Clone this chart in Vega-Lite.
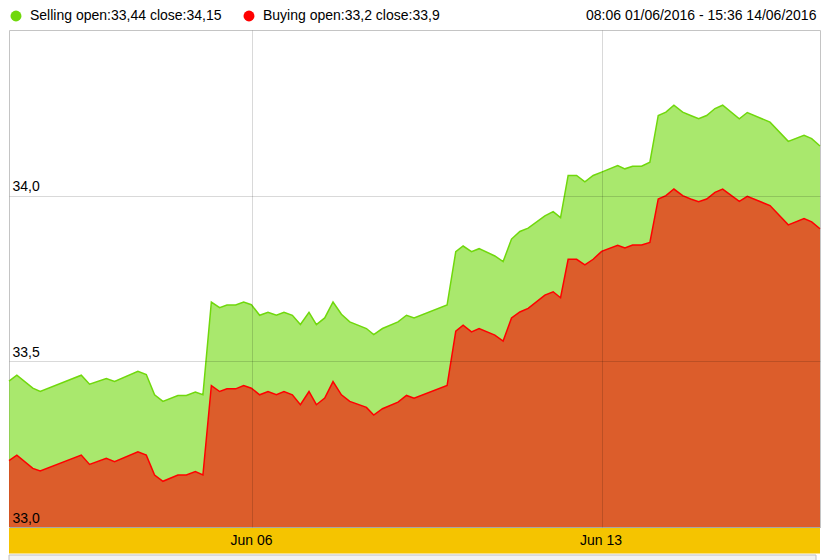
{
  "$schema": "https://vega.github.io/schema/vega-lite/v6.json",
  "width": 811,
  "height": 497,
  "autosize": {"type": "none"},
  "padding": {"left": 9, "top": 30, "right": 6, "bottom": 33},
  "background": "white",
  "config": {
    "font": "Liberation Sans",
    "view": {"stroke": "#c4c4c4", "strokeWidth": 1}
  },
  "datasets": {
    "quotes": [
    {"pos":1.135,"sell":33.44,"buy":33.2},
    {"pos":1.292,"sell":33.458,"buy":33.217},
    {"pos":1.612,"sell":33.419,"buy":33.177},
    {"pos":1.76,"sell":33.409,"buy":33.169},
    {"pos":2.582,"sell":33.458,"buy":33.217},
    {"pos":2.748,"sell":33.431,"buy":33.189},
    {"pos":3.083,"sell":33.448,"buy":33.207},
    {"pos":3.249,"sell":33.439,"buy":33.197},
    {"pos":3.716,"sell":33.47,"buy":33.227},
    {"pos":3.884,"sell":33.46,"buy":33.217},
    {"pos":4.05,"sell":33.399,"buy":33.157},
    {"pos":4.217,"sell":33.379,"buy":33.138},
    {"pos":4.517,"sell":33.397,"buy":33.157},
    {"pos":4.686,"sell":33.397,"buy":33.157},
    {"pos":4.866,"sell":33.407,"buy":33.167},
    {"pos":5.018,"sell":33.399,"buy":33.157},
    {"pos":5.187,"sell":33.679,"buy":33.427},
    {"pos":5.353,"sell":33.662,"buy":33.409},
    {"pos":5.499,"sell":33.67,"buy":33.417},
    {"pos":5.673,"sell":33.67,"buy":33.417},
    {"pos":5.834,"sell":33.679,"buy":33.427},
    {"pos":5.988,"sell":33.671,"buy":33.419},
    {"pos":6.154,"sell":33.639,"buy":33.399},
    {"pos":6.321,"sell":33.648,"buy":33.409},
    {"pos":6.489,"sell":33.639,"buy":33.399},
    {"pos":6.641,"sell":33.648,"buy":33.409},
    {"pos":6.809,"sell":33.639,"buy":33.399},
    {"pos":6.97,"sell":33.611,"buy":33.369},
    {"pos":7.142,"sell":33.648,"buy":33.409},
    {"pos":7.29,"sell":33.611,"buy":33.369},
    {"pos":7.457,"sell":33.631,"buy":33.389},
    {"pos":7.623,"sell":33.679,"buy":33.439},
    {"pos":7.791,"sell":33.642,"buy":33.399},
    {"pos":7.958,"sell":33.619,"buy":33.379},
    {"pos":8.292,"sell":33.599,"buy":33.361},
    {"pos":8.438,"sell":33.581,"buy":33.338},
    {"pos":8.613,"sell":33.599,"buy":33.357},
    {"pos":8.925,"sell":33.619,"buy":33.377},
    {"pos":9.094,"sell":33.639,"buy":33.397},
    {"pos":9.246,"sell":33.631,"buy":33.389},
    {"pos":9.907,"sell":33.67,"buy":33.427},
    {"pos":10.081,"sell":33.831,"buy":33.591},
    {"pos":10.228,"sell":33.848,"buy":33.609},
    {"pos":10.396,"sell":33.831,"buy":33.589},
    {"pos":10.548,"sell":33.84,"buy":33.599},
    {"pos":10.863,"sell":33.818,"buy":33.579},
    {"pos":11.029,"sell":33.801,"buy":33.561},
    {"pos":11.197,"sell":33.869,"buy":33.631},
    {"pos":11.364,"sell":33.892,"buy":33.649},
    {"pos":11.53,"sell":33.902,"buy":33.66},
    {"pos":11.865,"sell":33.939,"buy":33.7},
    {"pos":12.031,"sell":33.952,"buy":33.71},
    {"pos":12.179,"sell":33.934,"buy":33.692},
    {"pos":12.331,"sell":34.061,"buy":33.808},
    {"pos":12.5,"sell":34.061,"buy":33.808},
    {"pos":12.666,"sell":34.042,"buy":33.791},
    {"pos":12.832,"sell":34.061,"buy":33.808},
    {"pos":13.001,"sell":34.071,"buy":33.832},
    {"pos":13.323,"sell":34.091,"buy":33.85},
    {"pos":13.467,"sell":34.081,"buy":33.842},
    {"pos":13.622,"sell":34.089,"buy":33.851},
    {"pos":13.802,"sell":34.089,"buy":33.851},
    {"pos":13.968,"sell":34.101,"buy":33.859},
    {"pos":14.135,"sell":34.242,"buy":33.99},
    {"pos":14.289,"sell":34.252,"buy":34.0},
    {"pos":14.449,"sell":34.273,"buy":34.02},
    {"pos":14.624,"sell":34.252,"buy":34.0},
    {"pos":14.784,"sell":34.242,"buy":33.99},
    {"pos":14.944,"sell":34.232,"buy":33.982},
    {"pos":15.104,"sell":34.242,"buy":33.99},
    {"pos":15.271,"sell":34.263,"buy":34.01},
    {"pos":15.425,"sell":34.273,"buy":34.02},
    {"pos":15.758,"sell":34.232,"buy":33.983},
    {"pos":15.918,"sell":34.251,"buy":33.998},
    {"pos":16.373,"sell":34.222,"buy":33.97},
    {"pos":16.739,"sell":34.164,"buy":33.912},
    {"pos":17.054,"sell":34.182,"buy":33.931},
    {"pos":17.208,"sell":34.172,"buy":33.921},
    {"pos":17.374,"sell":34.15,"buy":33.9}
    ],
    "frame": [{"part": "band"}]
  },
  "layer": [
    {
      "data": {"name": "quotes"},
      "mark": {"type": "area", "fillOpacity": 0.6, "strokeWidth": 0},
      "encoding": {
        "x": {
          "field": "pos",
          "type": "quantitative",
          "scale": {"domain": [1.135, 17.374], "nice": false, "zero": false},
          "axis": {
            "values": [6, 13],
            "labelExpr": "datum.value == 6 ? 'Jun 06' : 'Jun 13'",
            "title": null,
            "grid": true,
            "gridColor": "#000000",
            "gridOpacity": 0.15,
            "ticks": false,
            "tickSize": 0,
            "domain": false,
            "labelBaseline": "middle",
            "labelPadding": 13.5,
            "labelOffset": -1,
            "labelFontSize": 14,
            "labelColor": "#000000",
            "labelFlush": false,
            "labelOverlap": false,
            "zindex": 2
          }
        },
        "y": {
          "field": "sell",
          "type": "quantitative",
          "scale": {"domain": [33, 34.5], "nice": false, "zero": false},
          "axis": {
            "values": [33, 33.5, 34],
            "labelExpr": "replace(format(datum.value, '.1f'), '.', ',')",
            "title": null,
            "grid": true,
            "gridColor": "#000000",
            "gridOpacity": 0.15,
            "domain": false,
            "ticks": false,
            "tickSize": 0,
            "labelAlign": "left",
            "labelBaseline": "alphabetic",
            "labelPadding": -3,
            "labelOffset": -5,
            "labelFontSize": 14,
            "labelColor": "#000000",
            "labelFlush": false,
            "labelOverlap": false,
            "zindex": 2
          }
        },
        "y2": {"datum": 33},
        "color": {
          "datum": "Selling",
          "type": "nominal",
          "scale": {"domain": ["Selling", "Buying"], "range": ["#70d80c", "#ff0000"]},
          "legend": {
            "orient": "none",
            "legendX": 0,
            "legendY": -21,
            "direction": "horizontal",
            "title": "08:06 01/06/2016 - 15:36 14/06/2016",
            "titleOrient": "right",
            "titlePadding": 146,
            "titleFontSize": 14,
            "titleFontWeight": "normal",
            "titleColor": "#000000",
            "titleLimit": 400,
            "symbolType": "circle",
            "symbolSize": 120,
            "symbolOpacity": 1,
            "symbolStrokeWidth": 0,
            "labelFontSize": 14,
            "labelColor": "#000000",
            "labelOffset": 7,
            "labelLimit": 400,
            "columnPadding": 20,
            "labelExpr": "datum.label == 'Selling' ? 'Selling open:33,44 close:34,15' : 'Buying open:33,2 close:33,9'"
          }
        }
      }
    },
    {
      "data": {"name": "quotes"},
      "mark": {"type": "area", "fillOpacity": 0.6, "strokeWidth": 0},
      "encoding": {
        "x": {"field": "pos", "type": "quantitative"},
        "y": {"field": "buy", "type": "quantitative"},
        "y2": {"datum": 33},
        "color": {"datum": "Buying", "type": "nominal"}
      }
    },
    {
      "data": {"name": "quotes"},
      "mark": {"type": "line", "strokeWidth": 1.5},
      "encoding": {
        "x": {"field": "pos", "type": "quantitative"},
        "y": {"field": "sell", "type": "quantitative"},
        "color": {"datum": "Selling", "type": "nominal"}
      }
    },
    {
      "data": {"name": "quotes"},
      "mark": {"type": "line", "strokeWidth": 1.5},
      "encoding": {
        "x": {"field": "pos", "type": "quantitative"},
        "y": {"field": "buy", "type": "quantitative"},
        "color": {"datum": "Buying", "type": "nominal"}
      }
    },
    {
      "data": {"name": "frame"},
      "mark": {"type": "rect", "fill": "#f5c400", "strokeWidth": 0, "clip": false},
      "encoding": {
        "x": {"datum": 1.135, "type": "quantitative"},
        "x2": {"datum": 17.374},
        "y": {"datum": 32.997, "type": "quantitative"},
        "y2": {"datum": 32.92}
      }
    },
    {
      "data": {"name": "frame"},
      "mark": {"type": "rect", "fill": "#f2f2f2", "stroke": "#c0c0c0", "strokeWidth": 1, "clip": false},
      "encoding": {
        "x": {"datum": 1.135, "type": "quantitative"},
        "x2": {"datum": 17.294},
        "y": {"datum": 32.9155, "type": "quantitative"},
        "y2": {"datum": 32.88}
      }
    }
  ]
}
